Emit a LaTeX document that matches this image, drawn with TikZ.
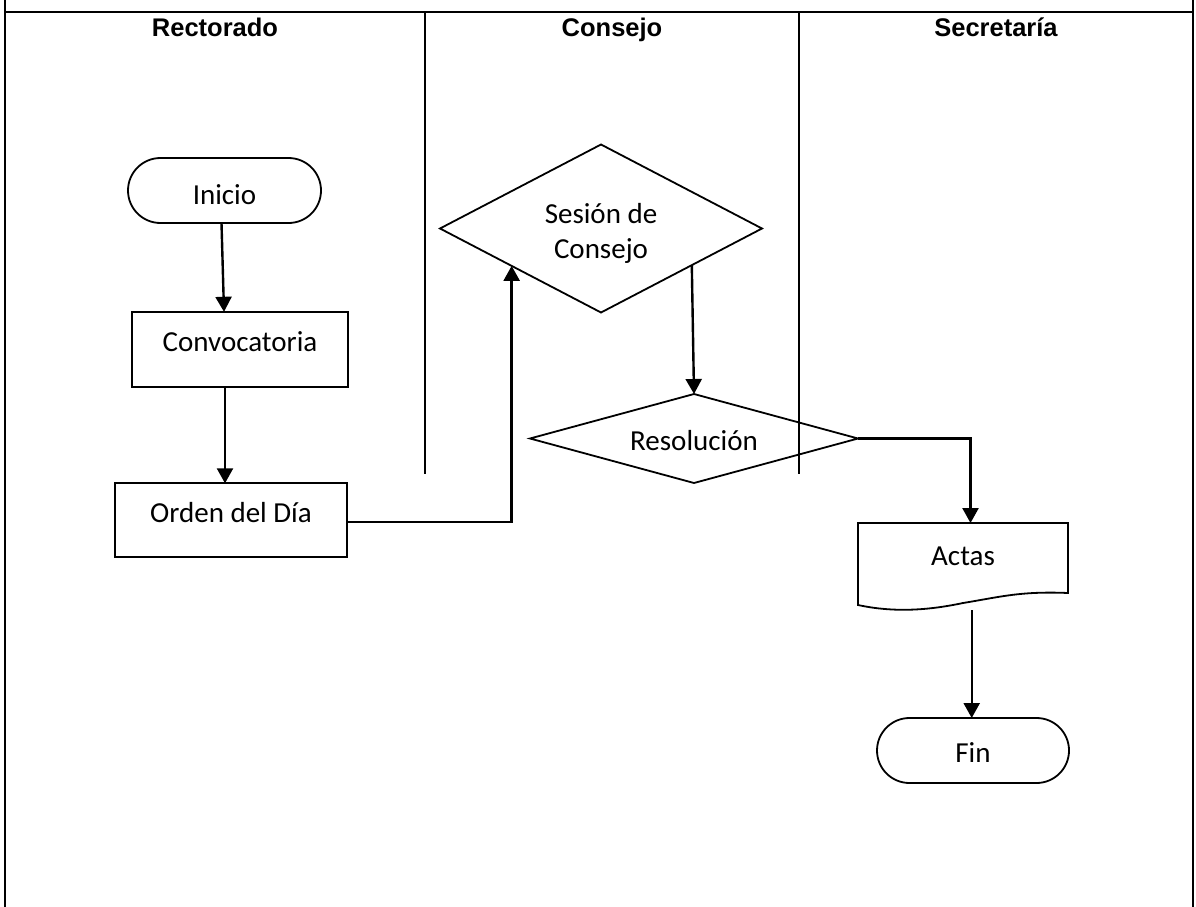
\documentclass[tikz,border=0pt]{standalone}
\usepackage{fontspec}
\setmainfont{Carlito}
\newfontfamily\hdrfont{Liberation Sans}
\usetikzlibrary{shapes.geometric,shapes.misc,arrows.meta,calc}
\begin{document}
\begin{tikzpicture}[x=1pt,y=-1pt,
  every node/.style={inner sep=0pt, outer sep=0pt},
  txt/.style={font=\fontsize{29}{35}\selectfont},
  box/.style={txt, draw, line width=1.8pt, rectangle},
  term/.style={txt, draw, line width=1.8pt, rounded rectangle},
  dec/.style={txt, draw, line width=1.8pt, diamond},
  arr/.style={line width=2.4pt, -{Triangle[width=16pt,length=15pt]}},
  frame/.style={line width=2.2pt},
  hdr/.style={font=\hdrfont\bfseries\fontsize{25.5}{30}\selectfont, anchor=base},
]
\useasboundingbox (0,0) rectangle (1196,907);
% frame and lanes
\draw[frame] (5,0) -- (5,907);
\draw[frame] (1193,0) -- (1193,907);
\draw[frame] (4,12) -- (1194,12);
\draw[frame] (425,12) -- (425,474);
\draw[frame] (799,12) -- (799,474);
% headers
\node[hdr] (h1) at (215,36.5) {Rectorado};
\node[hdr] (h2) at (612,36.5) {Consejo};
\node[hdr] (h3) at (996,36.5) {Secretaría};
% shapes
\node[term, minimum width=193pt, minimum height=65pt, text height=27pt, text depth=0pt] (inicio) at (224.5,190.5) {Inicio};
\node[box, minimum width=216pt, minimum height=75pt, text height=5pt, text depth=0pt] (conv) at (240,349.3) {Convocatoria};
\node[box, minimum width=232pt, minimum height=74pt, text height=5pt, text depth=0pt] (orden) at (231,520.3) {Orden del Día};
\node[dec, minimum width=322pt, minimum height=168pt, shape aspect=1.9, align=center] (ses) at (601,228.5) {\rule{0pt}{29pt}Sesión de\\Consejo};
\node[dec, minimum width=328pt, minimum height=89pt, shape aspect=3.7, text height=24pt, text depth=0pt] (res) at (694,438.5) {Resolución};
\node[txt, minimum width=210pt, minimum height=82pt, text height=2pt, text depth=0pt] (actas) at (963,564) {Actas};
\draw[line width=1.8pt] (actas.south west) -- (actas.north west) -- (actas.north east) -- ($(actas.south)+(105,-12)$)
  .. controls ($(actas.south)+(57,-14)$) and ($(actas.south)+(37,-8)$) .. ($(actas.south)+(0,-2)$)
  .. controls ($(actas.south)+(-33,5)$) and ($(actas.south)+(-68,8)$) .. (actas.south west) -- cycle;
\node[term, minimum width=192pt, minimum height=65pt, text height=24.4pt, text depth=0pt] (fin) at (973,750.5) {Fin};
% connectors
\draw[arr] ($(inicio.south)+(-3,0)$) -- ($(conv.north)+(-16,0)$);
\draw[arr] ($(conv.south)+(-15,0)$) -- ($(conv.south |- orden.north)+(-15,0)$);
\coordinate (sesin) at ($(ses.west)!0.445!(ses.south)$);
\draw[arr] ($(orden.east)+(0,1.4)$) -| (sesin);
\coordinate (sesout) at ($(ses.east)!0.436!(ses.south)$);
\draw[arr] (sesout) -- (res.north);
\draw[arr] (res.east) -| ($(actas.north)+(7.5,0)$);
\draw[arr] ($(actas.south -| fin.north)+(-1.3,5)$) -- ($(fin.north)+(-1.3,0)$);
\end{tikzpicture}
\end{document}
